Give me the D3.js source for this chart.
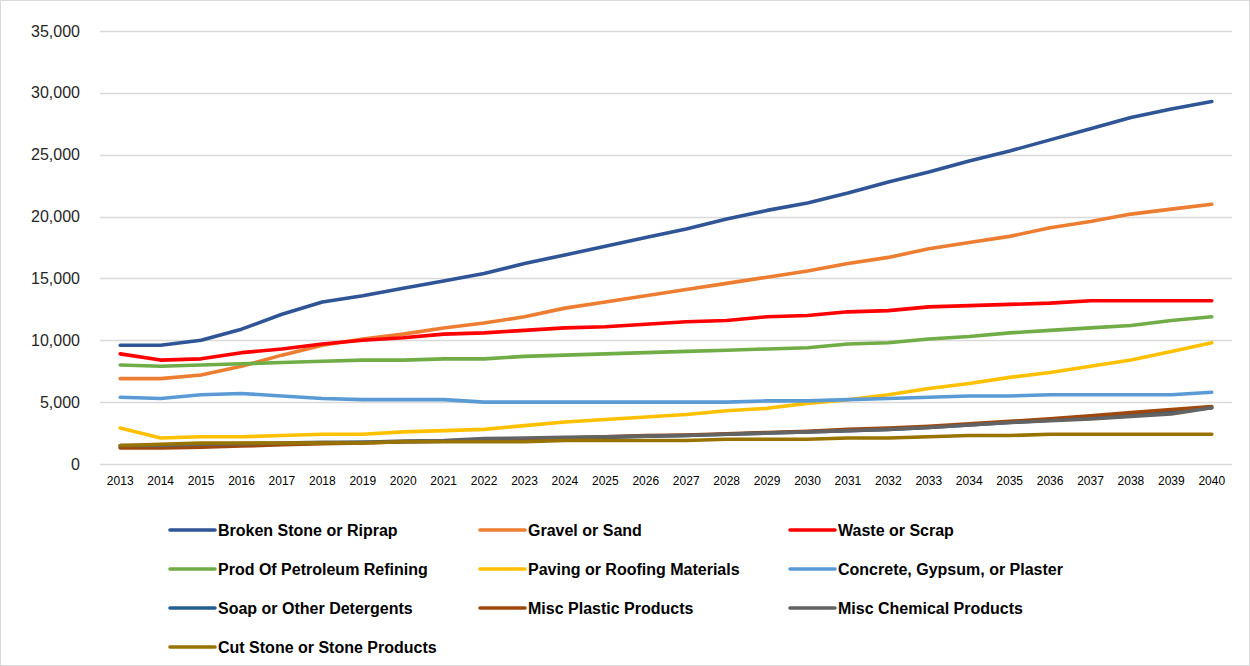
<!DOCTYPE html>
<html><head><meta charset="utf-8">
<script src="https://cdn.jsdelivr.net/npm/d3@7"></script>
<style>body{margin:0;background:#fff}</style>
</head><body><svg id="c" width="1250" height="666"></svg>
<script>
const years = [2013,2014,2015,2016,2017,2018,2019,2020,2021,2022,2023,2024,2025,2026,2027,2028,2029,2030,2031,2032,2033,2034,2035,2036,2037,2038,2039,2040];
const yTicks = [0,5000,10000,15000,20000,25000,30000,35000];
const seriesNames = ["Broken Stone or Riprap","Gravel or Sand","Waste or Scrap","Prod Of Petroleum Refining","Paving or Roofing Materials","Concrete, Gypsum, or Plaster","Soap or Other Detergents","Misc Plastic Products","Misc Chemical Products","Cut Stone or Stone Products"];
const seriesColors = ["#2F5597","#ED7D31","#FF0000","#70AD47","#FFC000","#5B9BD5","#255E91","#9E480E","#636363","#997300"];
const brokenStone = [9600,9600,10000,10900,12100,13100,13600,14200,14800,15400,16200,16900,17600,18300,19000,19800,20500,21100,21900,22800,23600,24500,25300,26200,27100,28000,28700,29300];
const gravelSand = [6900,6900,7200,7900,8800,9600,10100,10500,11000,11400,11900,12600,13100,13600,14100,14600,15100,15600,16200,16700,17400,17900,18400,19100,19600,20200,20600,21000];
const wasteScrap = [8900,8400,8500,9000,9300,9700,10000,10200,10500,10600,10800,11000,11100,11300,11500,11600,11900,12000,12300,12400,12700,12800,12900,13000,13200,13200,13200,13200];
const petroleum = [8000,7900,8000,8100,8200,8300,8400,8400,8500,8500,8700,8800,8900,9000,9100,9200,9300,9400,9700,9800,10100,10300,10600,10800,11000,11200,11600,11900];
const paving = [2900,2100,2200,2200,2300,2400,2400,2600,2700,2800,3100,3400,3600,3800,4000,4300,4500,4900,5200,5600,6100,6500,7000,7400,7900,8400,9100,9800];
const concrete = [5400,5300,5600,5700,5500,5300,5200,5200,5200,5000,5000,5000,5000,5000,5000,5000,5100,5100,5200,5300,5400,5500,5500,5600,5600,5600,5600,5800];
const soap = [1400,1400,1500,1550,1600,1700,1750,1800,1850,1950,2000,2100,2150,2250,2300,2400,2500,2600,2700,2800,2950,3150,3350,3550,3750,4000,4250,4550];
const miscPlastic = [1300,1300,1350,1450,1550,1650,1700,1800,1850,1950,2000,2100,2200,2300,2350,2450,2550,2650,2800,2900,3050,3250,3450,3650,3900,4150,4400,4650];
const miscChemical = [1500,1500,1600,1650,1700,1750,1750,1850,1900,2050,2100,2150,2200,2250,2300,2400,2500,2600,2700,2800,2950,3150,3350,3500,3650,3850,4050,4550];
const cutStone = [1500,1600,1700,1700,1700,1700,1700,1800,1800,1800,1800,1900,1900,1900,1900,2000,2000,2000,2100,2100,2200,2300,2300,2400,2400,2400,2400,2400];
const seriesValues = [brokenStone,gravelSand,wasteScrap,petroleum,paving,concrete,soap,miscPlastic,miscChemical,cutStone];

const svg = d3.select("#c");
svg.append("rect").attr("x",0.5).attr("y",0.5).attr("width",1249).attr("height",665).attr("fill","#fff").attr("stroke","#d9d9d9");

const L = 100, R = 1232, T = 31, B = 464;
const x = d3.scaleBand().domain(years).range([L,R]);
const y = d3.scaleLinear().domain([0,35000]).range([B,T]);

svg.append("g").selectAll("line").data(yTicks).join("line")
  .attr("x1",L).attr("x2",R).attr("y1",d=>Math.round(y(d))+0.5).attr("y2",d=>Math.round(y(d))+0.5)
  .attr("stroke","#d9d9d9").attr("stroke-width",1.3);

const ya = svg.append("g").attr("transform",`translate(${L-20},0)`)
  .call(d3.axisLeft(y).tickValues(yTicks).tickFormat(d3.format(",")).tickSize(0).tickPadding(0));
ya.select(".domain").remove();
ya.selectAll("text").attr("font-family","Liberation Sans, Arial, sans-serif").attr("font-size",16).attr("fill","#262626");

const xa = svg.append("g").attr("transform",`translate(0,${B})`)
  .call(d3.axisBottom(x).tickSize(0).tickPadding(12));
xa.select(".domain").remove();
xa.selectAll("text").attr("font-family","Liberation Sans, Arial, sans-serif").attr("font-size",12).attr("fill","#000");

const line = d3.line().x((d,i)=>x(years[i])+x.bandwidth()/2).y(d=>y(d));
svg.append("g").selectAll("path").data(seriesValues).join("path")
  .attr("d",d=>line(d)).attr("fill","none")
  .attr("stroke",(d,i)=>seriesColors[i]).attr("stroke-width",3.6)
  .attr("stroke-linejoin","round").attr("stroke-linecap","round");

const colX = [170,480,790], rowY = [530,569,608,647];
const lg = svg.append("g").selectAll("g").data(seriesNames).join("g")
  .attr("transform",(d,i)=>`translate(${colX[i%3]},${rowY[Math.floor(i/3)]})`);
lg.append("line").attr("x1",0).attr("x2",45).attr("y1",0).attr("y2",0)
  .attr("stroke",(d,i)=>seriesColors[i]).attr("stroke-width",3.6).attr("stroke-linecap","round");
lg.append("text").attr("x",48).attr("y",0).attr("dy","0.36em").text(d=>d)
  .attr("font-family","Liberation Sans, Arial, sans-serif").attr("font-weight","bold")
  .attr("font-size",16).attr("fill","#000");
</script></body></html>
